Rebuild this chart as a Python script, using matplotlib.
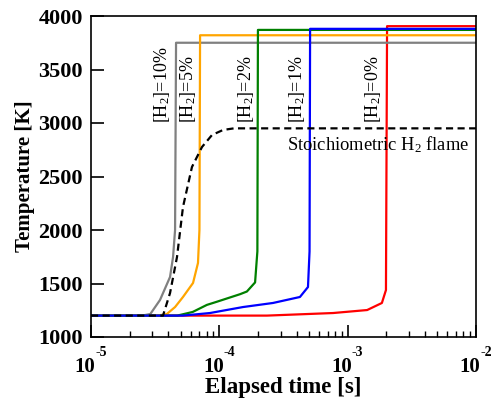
import matplotlib
matplotlib.use('Agg')
import matplotlib.pyplot as plt
from matplotlib.ticker import LogLocator, NullFormatter
import numpy as np

plt.rcParams['font.family'] = 'Liberation Serif'
plt.rcParams['mathtext.fontset'] = 'custom'
plt.rcParams['mathtext.rm'] = 'Liberation Serif'
plt.rcParams['mathtext.bf'] = 'Liberation Serif:bold'
plt.rcParams['mathtext.it'] = 'Liberation Serif:italic'

# Ignition curves: time [s], temperature [K]
t_h2_10 = [1e-5, 2.5e-5, 2.9e-5, 3.45e-5, 4.13e-5, 4.36e-5, 4.52e-5, 4.6e-5, 1e-2]
T_h2_10 = [1200, 1200, 1215, 1346, 1561, 1748, 2000, 3750, 3750]

t_h2_5 = [1e-5, 3.3e-5, 3.9e-5, 4.52e-5, 5.21e-5, 6.24e-5, 6.82e-5, 7.0e-5, 7.08e-5, 1e-2]
T_h2_5 = [1200, 1200, 1215, 1280, 1374, 1505, 1692, 2000, 3820, 3820]

t_h2_2 = [1e-5, 4.7e-5, 6.2e-5, 8.0e-5, 9.6e-5, 1.45e-4, 1.64e-4, 1.9e-4, 1.98e-4, 2.0e-4, 1e-2]
T_h2_2 = [1200, 1200, 1234, 1300, 1330, 1400, 1425, 1510, 1800, 3870, 3870]

t_h2_1 = [1e-5, 5.2e-5, 8.45e-5, 1.53e-4, 2.62e-4, 4.25e-4, 4.91e-4, 5.05e-4, 5.1e-4, 1e-2]
T_h2_1 = [1200, 1200, 1224, 1280, 1318, 1374, 1467, 1800, 3880, 3880]

t_h2_0 = [1e-5, 2.35e-4, 7.7e-4, 1.42e-3, 1.85e-3, 1.99e-3, 2.03e-3, 1e-2]
T_h2_0 = [1200, 1200, 1224, 1252, 1318, 1439, 3905, 3905]

t_flame = [1e-5, 3.64e-5, 4.13e-5, 4.68e-5, 5.21e-5, 6.12e-5, 7.33e-5, 8.77e-5, 1.07e-4, 1.3e-4, 1e-2]
T_flame = [1200, 1200, 1411, 1748, 2215, 2589, 2776, 2888, 2935, 2950, 2950]

# x tick decades and their exponents
decades = [1e-5, 1e-4, 1e-3, 1e-2]
exponents = ['-5', '-4', '-3', '-2']

fig = plt.figure(figsize=(4.96, 4.0), dpi=100)
ax = fig.add_axes([0.1835, 0.1575, 0.776, 0.8025])

ax.plot(t_h2_0, T_h2_0, color='red', lw=1.6)
ax.plot(t_h2_10, T_h2_10, color='grey', lw=1.6)
ax.plot(t_h2_5, T_h2_5, color='orange', lw=1.6)
ax.plot(t_h2_2, T_h2_2, color='green', lw=1.6)
ax.plot(t_h2_1, T_h2_1, color='blue', lw=1.6)
ax.plot(t_flame, T_flame, color='black', lw=1.6, dashes=(3.2, 2.0))

# labels for each curve
lab_kw = dict(rotation=90, ha='center', va='bottom', fontsize=13)
ax.text(3.6e-5, 3000, r'[H$_\mathrm{2}$]=10%', **lab_kw)
ax.text(5.75e-5, 3000, r'[H$_\mathrm{2}$]=5%', **lab_kw)
ax.text(1.6e-4, 3000, r'[H$_\mathrm{2}$]=2%', **lab_kw)
ax.text(4.05e-4, 3000, r'[H$_\mathrm{2}$]=1%', **lab_kw)
ax.text(1.58e-3, 3000, r'[H$_\mathrm{2}$]=0%', **lab_kw)
ax.text(8.9e-3, 2794, r'Stoichiometric H$_\mathrm{2}$ flame', ha='right', va='center', fontsize=13.3)

ax.set_xscale('log')
ax.set_xlim(1e-5, 1e-2)
ax.set_ylim(1000, 4000)
ax.set_yticks(np.arange(1000, 4001, 500))
ax.set_xticks(decades)
ax.xaxis.set_minor_locator(LogLocator(base=10, subs=np.arange(2, 10), numticks=10))
ax.xaxis.set_major_formatter(NullFormatter())
ax.xaxis.set_minor_formatter(NullFormatter())

# "10" with a raised exponent under each decade tick
for v, e in zip(decades, exponents):
    ax.annotate('10', xy=(v, 0), xycoords=('data', 'axes fraction'), xytext=(-4.3, -14.2),
                textcoords='offset points', ha='center', va='top', fontsize=15, fontweight='bold')
    ax.annotate(e, xy=(v, 0), xycoords=('data', 'axes fraction'), xytext=(3.0, -6.8),
                textcoords='offset points', ha='left', va='top', fontsize=10, fontweight='bold')

ax.tick_params(which='major', direction='in', length=9, width=1.2, labelsize=16, pad=6, top=False, right=False)
ax.tick_params(which='minor', direction='in', length=4.5, width=1.0, top=False, right=False)
for lbl in ax.get_yticklabels():
    lbl.set_fontweight('bold')
for s in ax.spines.values():
    s.set_linewidth(1.2)

ax.set_xlabel('Elapsed time [s]', fontsize=16.5, fontweight='bold', labelpad=22.5)
ax.set_ylabel('Temperature [K]', fontsize=15, fontweight='bold', labelpad=2)

fig.savefig('out.png', dpi=100)
